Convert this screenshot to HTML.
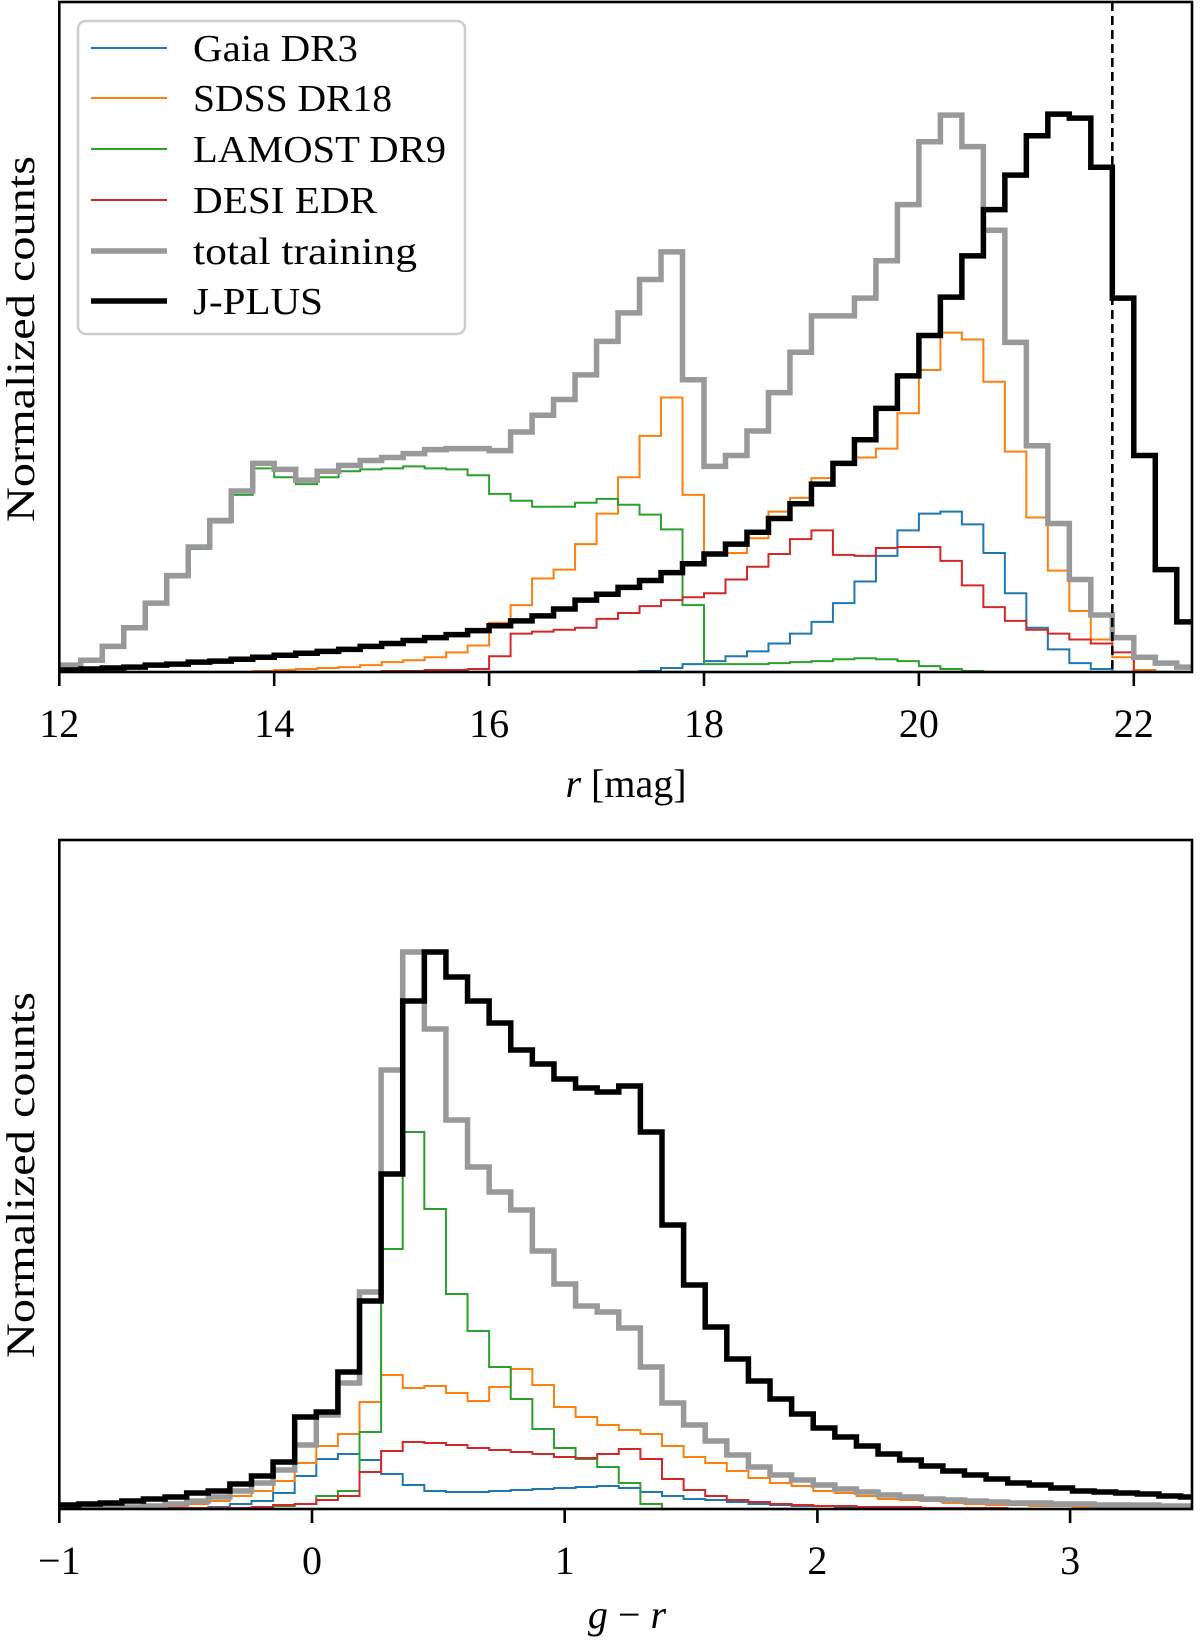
<!DOCTYPE html>
<html><head><meta charset="utf-8"><style>
html,body{margin:0;padding:0;background:#fff}
svg{display:block;font-family:"Liberation Serif",serif}
</style></head><body>
<svg id="fig" width="1200" height="1642" viewBox="0 0 1200 1642" xmlns="http://www.w3.org/2000/svg">
<defs>
<clipPath id="clipTop"><rect x="59.3" y="2" width="1132.7" height="670"/></clipPath>
<clipPath id="clipBot"><rect x="59.3" y="840" width="1132.7" height="669"/></clipPath>
</defs>
<g id="topPanel"></g>
<g id="botPanel"></g>
</svg>
<script>
// ---------- Top panel data (r [mag], bins 12.0 + 0.2k) ----------
const topBinStart = 12.0;
const topBinWidth = 0.2;
const topGaia = [0,0,0,0,0,0,0,0,0,0,0,0,0,0,0,0,0,0,0,0,0,0,0,0,0,0,0,1,4,8,11,16,21,29,39,51,70,92,118,144,161,163,150,121,80,45,23,9,3,0,0,0,0];
const topSDSS = [0,0,0,0,0,0,0,0,0,1,2,3,4,5,7,10,12,15,20,27,50,68,95,104,130,161,198,240,279,180,120,121,136,163,177,197,211,218,227,263,307,345,338,295,224,157,103,62,33,15,2,0,0];
const topLAMOST = [5,11,25,44,69,96,125,152,180,207,198,191,198,204,206,207,209,207,206,200,181,174,168,168,172,176,170,160,145,68,8,8,8,9,10,11,13,14,13,11,6,3,1,0,0,0,0,0,0,0,0,0,0];
const topDESI = [0,0,0,0,0,0,0,0,0,0,0,0,0,0,0,1,1,2,2,3,16,39,41,43,45,54,60,67,73,76,80,94,107,120,135,144,119,118,126,127,127,113,88,66,52,43,39,33,29,20,0,0,0];
const topTotal = [7,12,26,45,70,98,127,154,184,212,206,195,204,210,215,218,222,226,227,227,225,244,261,277,302,336,365,399,427,297,209,220,245,284,325,362,362,380,418,475,539,566,534,449,335,230,151,94,58,35,15,9,5];
const topJPLUS = [2,3,4,5,7,8,10,11,13,15,17,19,21,23,26,29,32,35,38,42,47,52,57,64,73,79,86,93,101,110,120,130,142,156,171,191,212,236,268,301,342,381,423,470,505,545,567,563,513,380,220,104,51];
const topTicks = [12,14,16,18,20,22];
const topTickLabels = ["12","14","16","18","20","22"];
const magLimit = 21.8;

// ---------- Bottom panel data (g - r, bins -1.009 + 0.0855k) ----------
const botBinStart = -1.009;
const botBinWidth = 0.0855;
const botGaia = [0,0,0,0,0,1,1,2,5,8,16,33,50,55,49,35,24,18,17,17,18,19,20,21,22,23,21,17,13,10,9,7,5,4,3,3,2,2,1,1,1,0,0,0,0,0,0,0,0,0,0,0,0];
const botSDSS = [0,0,0,1,1,2,5,8,13,18,28,46,63,75,107,134,121,123,116,108,122,140,124,102,92,84,79,75,63,52,46,38,31,26,23,18,16,13,10,9,8,6,5,4,4,3,3,2,2,2,1,1,1];
const botLAMOST = [0,0,0,0,0,0,0,0,0,2,3,5,13,18,77,260,377,300,215,178,142,110,80,61,50,42,26,5,0,0,0,0,0,0,0,0,0,0,0,0,0,0,0,0,0,0,0,0,0,0,0,0,0];
const botDESI = [0,0,0,0,0,1,1,1,1,2,4,5,9,13,37,58,67,66,64,61,59,57,55,52,51,55,60,50,30,19,13,9,7,5,4,3,3,2,2,2,1,1,1,1,0,0,0,0,0,0,0,0,0];
const botTotal = [1,1,2,2,3,5,8,12,18,26,39,64,94,126,217,439,557,480,389,342,317,299,258,225,203,197,181,142,106,84,68,54,42,34,29,24,20,17,14,12,10,9,8,7,6,6,5,5,4,4,4,3,3];
const botJPLUS = [4,5,6,8,10,12,16,18,25,33,47,92,97,137,208,335,508,557,532,508,486,459,445,430,421,417,423,377,284,224,182,150,128,110,95,81,72,63,55,49,43,38,34,30,26,24,21,18,17,16,15,13,12];
const botTicks = [-1,0,1,2,3];
const botTickLabels = ["\u22121","0","1","2","3"];

const legendLabels = ["Gaia DR3","SDSS DR18","LAMOST DR9","DESI EDR","total training","J-PLUS"];

// ---------- Axis functions ----------
const NS = "http://www.w3.org/2000/svg";
const xT = v => 59.3 + (v - 12) * 107.45;
const yT = v => 672 - v * (670 / 681);
const xB = v => 59.3 + (v + 1) * 252.7;
const yB = v => 1509 - v;

function mk(tag, attrs, parent) {
  const e = document.createElementNS(NS, tag);
  for (const k in attrs) e.setAttribute(k, attrs[k]);
  parent.appendChild(e);
  return e;
}

function stepPath(vals, start, width, xf, yf) {
  const base = yf(0);
  let d = "M" + xf(start).toFixed(2) + "," + base.toFixed(2);
  for (let i = 0; i < vals.length; i++) {
    const x0 = xf(start + i * width), x1 = xf(start + (i + 1) * width), y = yf(vals[i]);
    d += " L" + x0.toFixed(2) + "," + y.toFixed(2) + " L" + x1.toFixed(2) + "," + y.toFixed(2);
  }
  d += " L" + xf(start + vals.length * width).toFixed(2) + "," + base.toFixed(2);
  return d;
}

const seriesStyle = [
  {color:"#1f77b4", w:2},
  {color:"#ff7f0e", w:2},
  {color:"#2ca02c", w:2},
  {color:"#d62728", w:2},
  {color:"#999999", w:5.5},
  {color:"#000000", w:5.5}
];
const seriesNames = ["gaia-dr3","sdss-dr18","lamost-dr9","desi-edr","total-training","j-plus"];

// ---------- Top panel ----------
const topG = document.getElementById("topPanel");
const topData = [topGaia, topSDSS, topLAMOST, topDESI, topTotal, topJPLUS];
const gTopClip = mk("g", {"clip-path":"url(#clipTop)"}, topG);
topData.forEach((vals, i) => {
  const p = mk("path", {d: stepPath(vals, topBinStart, topBinWidth, xT, yT), fill:"none", stroke:seriesStyle[i].color, "stroke-width":seriesStyle[i].w, "stroke-linejoin":"miter"}, gTopClip);
  
  
});
const dashLine = mk("line", {x1:xT(magLimit), x2:xT(magLimit), y1:2, y2:672, stroke:"#000", "stroke-width":2.6, "stroke-dasharray":"9,5"}, topG);


const frameT = mk("rect", {x:59.3, y:2, width:1132.7, height:670, fill:"none", stroke:"#000", "stroke-width":2.6}, topG);


topTicks.forEach((t, i) => {
  const tk = mk("line", {x1:xT(t), x2:xT(t), y1:672, y2:686, stroke:"#000", "stroke-width":2.6}, topG);
  
  
  const lb = mk("text", {x:xT(t), y:737, "text-anchor":"middle", "font-size":40}, topG);
  lb.textContent = topTickLabels[i];
  
  
});
const xlabT = mk("text", {x:626, y:797, "text-anchor":"middle", "font-size":40}, topG);
const xlabTr = mk("tspan", {"font-style":"italic"}, xlabT);
xlabTr.textContent = "r";
const xlabTm = mk("tspan", {}, xlabT);
xlabTm.textContent = " [mag]";


const ylabT = mk("text", {x:0, y:0, "text-anchor":"middle", "font-size":40, transform:"translate(34,339) rotate(-90)", textLength:366, lengthAdjust:"spacingAndGlyphs"}, topG);
ylabT.textContent = "Normalized counts";



// Legend
const leg = mk("g", {}, topG);


mk("rect", {x:78, y:21, width:387, height:313, rx:8, ry:8, fill:"#fff", "fill-opacity":0.85, stroke:"#cccccc", "stroke-width":2.5}, leg);
const legY = [48, 98, 149, 200, 251, 301];
const legLen = [165, 199, 253, 184, 224, 130];
legendLabels.forEach((lab, i) => {
  const ent = mk("g", {}, leg);
  
  
  mk("line", {x1:91, x2:167, y1:legY[i], y2:legY[i], stroke:seriesStyle[i].color, "stroke-width":seriesStyle[i].w}, ent);
  const t = mk("text", {x:193, y:legY[i] + 13, "font-size":38, textLength:legLen[i], lengthAdjust:"spacingAndGlyphs"}, ent);
  t.textContent = lab;
});

// ---------- Bottom panel ----------
const botG = document.getElementById("botPanel");
const botData = [botGaia, botSDSS, botLAMOST, botDESI, botTotal, botJPLUS];
const gBotClip = mk("g", {"clip-path":"url(#clipBot)"}, botG);
botData.forEach((vals, i) => {
  const p = mk("path", {d: stepPath(vals, botBinStart, botBinWidth, xB, yB), fill:"none", stroke:seriesStyle[i].color, "stroke-width":seriesStyle[i].w, "stroke-linejoin":"miter"}, gBotClip);
  
  
});
const frameB = mk("rect", {x:59.3, y:840, width:1132.7, height:669, fill:"none", stroke:"#000", "stroke-width":2.6}, botG);


botTicks.forEach((t, i) => {
  const tk = mk("line", {x1:xB(t), x2:xB(t), y1:1509, y2:1523, stroke:"#000", "stroke-width":2.6}, botG);
  
  
  const lb = mk("text", {x:xB(t), y:1574, "text-anchor":"middle", "font-size":40}, botG);
  lb.textContent = botTickLabels[i];
  
  
});
const xlabB = mk("text", {x:627, y:1628, "text-anchor":"middle", "font-size":40}, botG);
const xlabBg = mk("tspan", {"font-style":"italic"}, xlabB);
xlabBg.textContent = "g";
const xlabBm = mk("tspan", {}, xlabB);
xlabBm.textContent = " \u2212 ";
const xlabBr = mk("tspan", {"font-style":"italic"}, xlabB);
xlabBr.textContent = "r";


const ylabB = mk("text", {x:0, y:0, "text-anchor":"middle", "font-size":40, transform:"translate(34,1175) rotate(-90)", textLength:366, lengthAdjust:"spacingAndGlyphs"}, botG);
ylabB.textContent = "Normalized counts";


</script>
</body></html>
